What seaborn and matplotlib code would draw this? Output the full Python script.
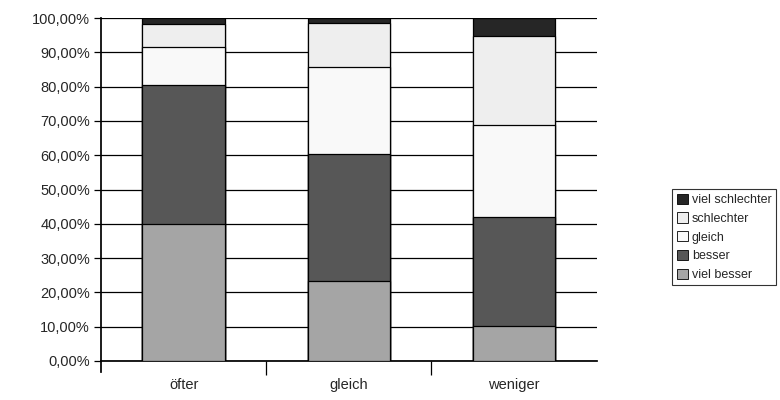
import numpy as np
import pandas as pd
import seaborn as sns
import matplotlib.pyplot as plt
from matplotlib.patches import Patch
from matplotlib.ticker import FuncFormatter

# Daten (Anteile in %)
kategorien = ["öfter", "gleich", "weniger"]
stufen = ["viel besser", "besser", "gleich", "schlechter", "viel schlechter"]
viel_besser = [40.0, 23.4, 10.1]
besser = [40.6, 37.0, 31.8]
gleich = [10.9, 25.2, 26.9]
schlechter = [6.8, 12.9, 26.0]
viel_schlechter = [1.7, 1.5, 5.2]
farben = ["#a5a5a5", "#575757", "#f9f9f9", "#eeeeee", "#262626"]

df = pd.DataFrame({
    "kategorie": kategorien,
    "viel besser": viel_besser,
    "besser": besser,
    "gleich": gleich,
    "schlechter": schlechter,
    "viel schlechter": viel_schlechter,
})

sns.set_theme(style="white")
plt.rcParams["font.family"] = ["Liberation Sans", "DejaVu Sans"]

fig = plt.figure(figsize=(7.8, 4), dpi=100)
ax = fig.add_axes([0.1295, 0.0975, 0.6355, 0.8575])

# gestapelt: kumulierte Summen, von oben nach unten zeichnen
kum = df[stufen].cumsum(axis=1)
for stufe, farbe in reversed(list(zip(stufen, farben))):
    sns.barplot(x=df["kategorie"], y=kum[stufe], color=farbe, saturation=1,
                width=0.5, edgecolor="black", linewidth=0.9, ax=ax, zorder=3)

ax.set_ylim(0, 100)
ax.set_xlim(-0.5, 2.5)
ax.set_yticks(np.arange(0, 101, 10))
ax.yaxis.set_major_formatter(FuncFormatter(lambda v, p: f"{v:.2f}%".replace(".", ",")))
ax.grid(axis="y", color="black", linewidth=0.9, zorder=0)
ax.set_axisbelow(True)
ax.set_xlabel("")
ax.set_ylabel("")

for s in ["top", "right"]:
    ax.spines[s].set_visible(False)
ax.spines["left"].set_color("black")
ax.spines["bottom"].set_color("black")
ax.spines["left"].set_bounds(-3.3, 100)

ax.tick_params(axis="y", which="major", direction="out", length=5, width=0.9,
               color="black", labelsize=10.5, pad=3, left=True)
ax.tick_params(axis="x", which="major", length=0, labelsize=10.5, pad=12)
ax.set_xticks([0.5, 1.5], minor=True)
ax.tick_params(axis="x", which="minor", direction="out", length=10, width=0.9,
               color="black", bottom=True)

handles = [Patch(facecolor=f, edgecolor="black", linewidth=0.6, label=s)
           for s, f in zip(stufen, farben)][::-1]
leg = fig.legend(handles=handles, loc="upper left", bbox_to_anchor=(0.862, 0.527),
                 fontsize=9, frameon=True, fancybox=False, handlelength=0.9,
                 handleheight=0.9, handletextpad=0.3, labelspacing=0.5,
                 borderpad=0.35, borderaxespad=0)
leg.get_frame().set_edgecolor("black")
leg.get_frame().set_linewidth(0.8)

fig.savefig("out.png", dpi=100)
